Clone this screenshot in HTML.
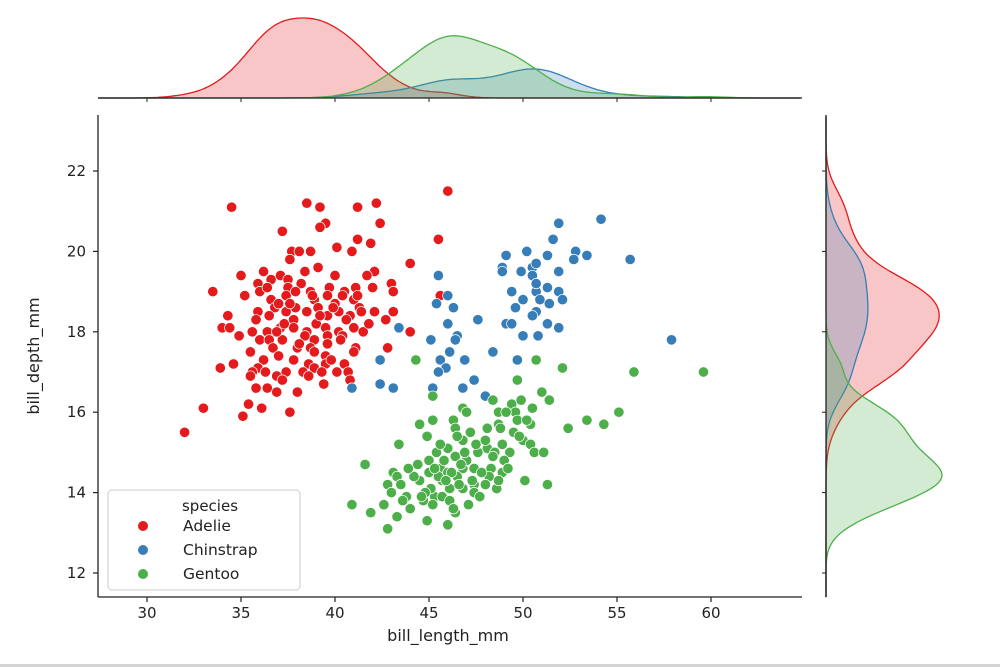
<!DOCTYPE html>
<html><head><meta charset="utf-8"><style>
html,body{margin:0;padding:0;background:#fff;}
svg{display:block;font-family:"DejaVu Sans","Liberation Sans",sans-serif;}
</style></head><body>
<svg id="chart" width="1000" height="667" viewBox="0 0 1000 667">
<rect x="0" y="0" width="1000" height="667" fill="#fff"/>
<rect x="0" y="664" width="1000" height="3" fill="#d4d4d4"/>
<g id="topm"></g>
<g id="rightm"></g>
<g id="mainax"></g>
</svg>
<script>
const species = ["Adelie","Chinstrap","Gentoo"];
const colors = ["#e41a1c","#377eb8","#4daf4a"];
const xTicks = [30,35,40,45,50,55,60];
const yTicks = [12,14,16,18,20,22];
const adelie = [[34.5,21.1],[38.5,21.2],[39.2,21.1],[41.2,21.1],[42.2,21.2],[39.5,20.7],[39.2,20.6],[42.4,20.7],[37.2,20.5],[41.2,20.3],[41.9,20.2],[40.1,20.1],[40.9,20.0],[37.7,20.0],[38.1,20.0],[38.7,20.0],[37.6,19.8],[44.0,19.7],[39.1,19.6],[35.0,19.4],[36.2,19.5],[42.1,19.5],[41.7,19.4],[33.5,19.0],[35.9,19.2],[36.6,19.3],[37.1,19.4],[37.5,19.3],[38.2,19.2],[37.5,19.1],[38.7,19.0],[39.7,19.1],[40.5,19.0],[41.1,19.1],[42.0,19.1],[43.0,19.2],[43.1,19.0],[35.2,18.9],[36.6,18.8],[37.4,18.9],[38.9,18.8],[39.6,18.9],[40.4,18.9],[41.0,18.8],[36.8,18.6],[37.9,18.6],[39.1,18.6],[40.0,18.7],[41.3,18.6],[34.3,18.4],[35.9,18.5],[36.5,18.4],[37.4,18.5],[38.5,18.5],[39.6,18.4],[40.2,18.5],[40.8,18.4],[41.4,18.5],[42.1,18.5],[43.1,18.5],[37.8,18.3],[42.7,18.3],[34.0,18.1],[34.4,18.1],[35.6,18.0],[36.4,18.0],[37.1,18.1],[37.8,18.1],[38.5,18.0],[39.5,18.1],[40.2,18.0],[41.0,18.1],[41.5,18.0],[44.0,18.0],[34.9,17.9],[36.0,17.8],[36.5,17.8],[37.2,17.8],[38.4,17.9],[38.9,17.8],[39.6,17.9],[40.4,17.9],[39.6,17.7],[38.0,17.6],[38.7,17.6],[41.1,17.6],[42.8,17.6],[35.5,17.5],[38.9,17.5],[41.0,17.5],[39.5,17.4],[37.8,17.3],[36.2,17.3],[33.9,17.1],[34.6,17.2],[35.9,17.1],[38.6,17.2],[39.5,17.2],[40.5,17.2],[35.6,17.0],[36.3,17.0],[37.4,17.0],[38.3,17.0],[38.9,17.1],[40.1,17.0],[40.7,17.0],[36.9,16.9],[37.2,16.8],[35.5,16.9],[40.8,16.8],[39.4,16.7],[35.8,16.6],[36.4,16.6],[36.9,16.5],[38.0,16.5],[33.0,16.1],[35.4,16.2],[36.1,16.1],[37.6,16.0],[35.1,15.9],[32.0,15.5],[46.0,21.5],[45.5,20.3],[45.6,18.9],[37.0,18.7],[39.0,18.2],[36.0,19.0],[38.8,18.9],[37.3,18.2],[40.6,18.3],[39.9,18.6],[36.7,17.6],[38.1,17.7],[39.2,18.4],[37.6,18.7],[40.3,17.8],[35.8,18.3],[38.4,19.5],[39.8,17.3],[36.9,18.0],[41.2,18.9],[37.9,19.0],[38.6,16.9],[40.0,19.4],[36.4,19.1],[39.3,17.0],[37.0,17.4],[41.8,18.2]];
const chinstrap = [[54.15,20.8],[51.9,20.7],[51.6,20.3],[50.2,20.0],[51.3,19.9],[52.8,20.0],[53.4,19.9],[52.7,19.8],[55.7,19.8],[49.1,19.9],[48.9,19.6],[48.9,19.5],[49.9,19.5],[50.5,19.6],[50.7,19.7],[50.5,19.4],[51.9,19.5],[45.5,19.4],[49.4,19.0],[50.7,19.0],[51.3,19.1],[50.7,19.2],[51.9,19.0],[50.0,18.8],[50.9,18.8],[52.1,18.8],[46.0,18.9],[51.4,18.7],[49.6,18.6],[50.7,18.5],[50.5,18.4],[45.4,18.7],[46.3,18.6],[47.6,18.3],[49.1,18.2],[49.4,18.2],[51.3,18.2],[51.9,18.1],[46.0,18.2],[43.4,18.1],[50.0,17.9],[50.8,17.9],[46.5,17.9],[46.4,17.8],[45.1,17.8],[57.9,17.8],[48.4,17.5],[49.7,17.3],[46.1,17.5],[46.9,17.3],[45.6,17.3],[45.9,17.1],[45.5,17.0],[42.4,17.3],[47.4,16.8],[46.8,16.6],[45.2,16.6],[42.4,16.7],[43.1,16.6],[40.9,16.6],[48.0,16.4]];
const gentoo = [[59.6,17.0],[55.9,17.0],[52.1,17.1],[50.7,17.3],[44.3,17.3],[49.7,16.8],[55.1,16.0],[51.0,16.5],[51.4,16.3],[49.4,16.2],[49.9,16.3],[48.4,16.3],[45.2,16.4],[48.7,16.0],[49.6,16.0],[46.8,16.1],[53.4,15.8],[54.3,15.7],[52.4,15.6],[50.4,15.7],[49.7,15.8],[48.7,15.7],[48.1,15.6],[45.2,15.8],[44.5,15.7],[46.3,15.8],[46.4,15.6],[44.9,15.4],[47.2,15.5],[46.8,15.3],[50.0,15.3],[50.4,15.2],[43.4,15.2],[46.0,15.1],[48.1,15.1],[48.9,15.2],[47.6,15.0],[49.3,15.0],[50.6,15.0],[45.4,15.0],[46.4,14.9],[49.0,14.8],[41.6,14.7],[44.4,14.7],[45.0,14.8],[45.6,14.6],[46.0,14.5],[46.8,14.6],[47.4,14.6],[48.3,14.6],[45.0,14.5],[43.1,14.5],[48.9,14.5],[43.3,14.4],[46.5,14.4],[48.2,14.4],[44.5,14.3],[45.7,14.3],[42.8,14.2],[43.5,14.2],[47.4,14.2],[48.0,14.2],[50.1,14.3],[51.3,14.2],[46.1,14.1],[46.8,14.1],[48.6,14.1],[43.0,14.0],[47.4,14.0],[43.8,13.9],[45.3,13.9],[45.7,13.9],[42.6,13.7],[40.9,13.7],[44.0,13.6],[44.7,13.8],[45.2,13.7],[47.1,13.7],[41.9,13.5],[43.3,13.4],[46.4,13.5],[44.9,13.3],[46.0,13.2],[42.8,13.1],[46.2,14.5],[45.5,14.4],[47.0,14.8],[48.5,15.0],[49.5,15.5],[47.8,14.5],[46.6,14.2],[45.1,14.1],[44.2,14.4],[47.5,15.2],[48.8,15.6],[46.9,15.0],[45.8,14.8],[50.2,15.8],[49.1,16.0],[47.3,14.3],[46.1,13.8],[44.8,14.0],[48.4,14.9],[45.3,14.6],[49.8,15.4],[46.5,15.4],[43.9,14.6],[47.7,13.9],[50.5,16.1],[45.9,14.3],[48.0,15.3],[46.7,14.7],[44.6,13.9],[49.2,14.6],[47.0,16.0],[45.6,15.2],[51.1,15.0],[43.6,13.8],[48.7,14.3],[46.3,13.6]];
const groups = [adelie, chinstrap, gentoo];

const NS="http://www.w3.org/2000/svg";
function mk(tag, attrs, parent){const e=document.createElementNS(NS,tag);for(const k in attrs)e.setAttribute(k,attrs[k]);parent.appendChild(e);return e;}
const L=98,R=802,T=115,B=597;
const sx=v=>147+(v-30)*18.8;
const sy=v=>171-(v-22)*40.2;
const mainG=document.getElementById('mainax');
let sp=mk('line',{x1:L,y1:T,x2:L,y2:B,stroke:'#222','stroke-width':1.3},mainG);


sp=mk('line',{x1:L,y1:B,x2:R,y2:B,stroke:'#222','stroke-width':1.3},mainG);


xTicks.forEach(t=>{
  const tk=mk('line',{x1:sx(t),y1:B,x2:sx(t),y2:B+5,stroke:'#222','stroke-width':1.2},mainG);
  
  
  const tx=mk('text',{x:sx(t),y:B+21,'text-anchor':'middle','font-size':15,fill:'#222'},mainG);
  tx.textContent=t;
  
  
});
yTicks.forEach(t=>{
  const tk=mk('line',{x1:L-5,y1:sy(t),x2:L,y2:sy(t),stroke:'#222','stroke-width':1.2},mainG);
  
  
  const tx=mk('text',{x:L-12,y:sy(t)+5,'text-anchor':'end','font-size':15,fill:'#222'},mainG);
  tx.textContent=t;
  
  
});
let lab=mk('text',{x:448,y:641,'text-anchor':'middle','font-size':16,fill:'#222'},mainG);
lab.textContent='bill_length_mm';


lab=mk('text',{x:39,y:356,'text-anchor':'middle','font-size':16,fill:'#222',transform:'rotate(-90 39 356)'},mainG);
lab.textContent='bill_depth_mm';


groups.forEach((g,i)=>{
  g.forEach(p=>{
    const c=mk('circle',{cx:sx(p[0]),cy:sy(p[1]),r:5.2,fill:colors[i],stroke:'#fff','stroke-width':0.7},mainG);
    
    
  });
});
const lg=mk('g',{},mainG);


mk('rect',{x:108,y:490,width:192,height:100,rx:4,fill:'#fff','fill-opacity':0.85,stroke:'#ccc'},lg);
const lt=mk('text',{x:210,y:511,'text-anchor':'middle','font-size':15,fill:'#222'},lg);
lt.textContent='species';


species.forEach((s,i)=>{
  const y=526+i*24;
  const e=mk('g',{},lg);
  
  
  mk('circle',{cx:143,cy:y,r:5,fill:colors[i]},e);
  const t=mk('text',{x:183,y:y+5,'font-size':15.5,fill:'#222'},e);
  t.textContent=s;
});
function sdev(a){const m=a.reduce((s,v)=>s+v,0)/a.length;return Math.sqrt(a.reduce((s,v)=>s+(v-m)*(v-m),0)/(a.length-1));}
const NTOT=adelie.length+chinstrap.length+gentoo.length;
function kde(vals,grid){const n=vals.length;const bw=sdev(vals)*Math.pow(n,-0.2);return grid.map(x=>{let s=0;for(const v of vals){const z=(x-v)/bw;s+=Math.exp(-0.5*z*z);}return s/(NTOT*bw*Math.sqrt(2*Math.PI));});}
const gx=[],gy=[];
for(let v=27.4;v<=64.8;v+=0.15)gx.push(v);
for(let v=11.4;v<=23.4;v+=0.05)gy.push(v);
const kx=groups.map(g=>kde(g.map(p=>p[0]),gx));
const ky=groups.map(g=>kde(g.map(p=>p[1]),gy));
const mxv=Math.max(...kx.flat()), myv=Math.max(...ky.flat());
const topG=document.getElementById('topm'), rightG=document.getElementById('rightm');
kx.forEach((d,i)=>{
  const pts=gx.map((v,j)=>[sx(v),98-d[j]/mxv*80]);
  const line=pts.map(p=>p[0].toFixed(1)+','+p[1].toFixed(1)).join(' ');
  const f=mk('polygon',{points:sx(gx[0])+',98 '+line+' '+sx(gx[gx.length-1])+',98',fill:colors[i],'fill-opacity':0.25,stroke:'none'},topG);
  
  
  const l=mk('polyline',{points:line,fill:'none',stroke:colors[i],'stroke-width':1.3},topG);
  
  
});
ky.forEach((d,i)=>{
  const pts=gy.map((v,j)=>[826+d[j]/myv*116,sy(v)]);
  const line=pts.map(p=>p[0].toFixed(1)+','+p[1].toFixed(1)).join(' ');
  const f=mk('polygon',{points:'826,'+sy(gy[0])+' '+line+' 826,'+sy(gy[gy.length-1]),fill:colors[i],'fill-opacity':0.25,stroke:'none'},rightG);
  
  
  const l=mk('polyline',{points:line,fill:'none',stroke:colors[i],'stroke-width':1.3},rightG);
  
  
});
let s2=mk('line',{x1:L,y1:98,x2:R,y2:98,stroke:'#222','stroke-width':1.3},topG);


xTicks.forEach(t=>{const k=mk('line',{x1:sx(t),y1:98,x2:sx(t),y2:102,stroke:'#222','stroke-width':1},topG);

});
s2=mk('line',{x1:826,y1:T,x2:826,y2:B,stroke:'#222','stroke-width':1.3},rightG);


yTicks.forEach(t=>{const k=mk('line',{x1:822,y1:sy(t),x2:826,y2:sy(t),stroke:'#222','stroke-width':1},rightG);

});
</script>
</body></html>
